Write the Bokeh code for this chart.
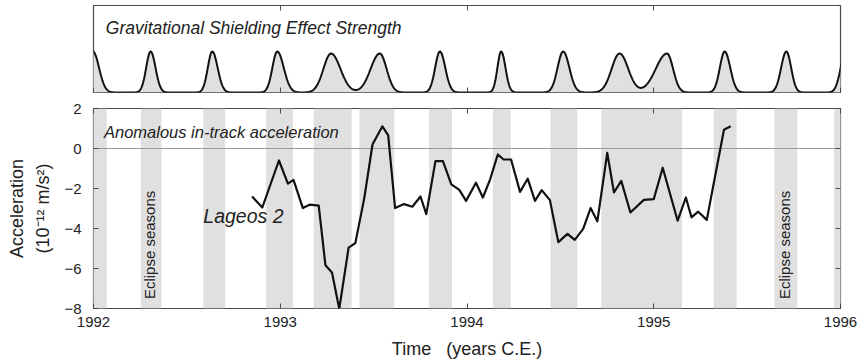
import numpy as np
from bokeh.plotting import figure
from bokeh.layouts import column
from bokeh.models import (Range1d, LinearAxis, FixedTicker, Label, Title, Span,
                          BoxAnnotation, CustomJSTickFormatter, ColumnDataSource)
from bokeh.embed import file_html
from bokeh.resources import INLINE

# ---------------- data ----------------
acc_time = [1992.849, 1992.904, 1992.993, 1993.041, 1993.071, 1993.121, 1993.157,
            1993.206, 1993.242, 1993.277, 1993.316, 1993.366, 1993.402, 1993.450,
            1993.494, 1993.547, 1993.578, 1993.615, 1993.663, 1993.707, 1993.751,
            1993.782, 1993.831, 1993.871, 1993.916, 1993.959, 1993.995, 1994.048,
            1994.085, 1994.124, 1994.165, 1994.196, 1994.236, 1994.284, 1994.325,
            1994.364, 1994.400, 1994.444, 1994.489, 1994.538, 1994.577, 1994.622,
            1994.662, 1994.698, 1994.751, 1994.787, 1994.826, 1994.875, 1994.947,
            1995.000, 1995.048, 1995.128, 1995.172, 1995.202, 1995.238, 1995.284,
            1995.376, 1995.412]
acc_value = [-2.40, -2.95, -0.60, -1.76, -1.57, -2.98, -2.81,
             -2.86, -5.84, -6.20, -8.02, -4.96, -4.73, -2.48,
             0.20, 1.11, 0.66, -2.98, -2.78, -2.91, -2.40,
             -3.28, -0.63, -0.63, -1.79, -2.07, -2.62, -1.71,
             -2.45, -1.54, -0.30, -0.55, -0.55, -2.17, -1.51,
             -2.62, -2.08, -2.58, -4.68, -4.27, -4.57, -4.02,
             -2.98, -3.64, -0.22, -2.20, -1.62, -3.20, -2.57,
             -2.53, -0.96, -3.61, -2.45, -3.44, -3.16, -3.57,
             0.94, 1.11]

season_start = [1991.95, 1992.253, 1992.588, 1992.924, 1993.179, 1993.424, 1993.797,
                1994.138, 1994.447, 1994.719, 1995.321, 1995.646, 1995.966]
season_end = [1992.071, 1992.364, 1992.705, 1993.068, 1993.382, 1993.611, 1993.920,
              1994.234, 1994.591, 1995.151, 1995.444, 1995.769, 1996.05]

peak_time = [1991.997, 1992.306, 1992.636, 1992.984, 1993.272, 1993.533, 1993.855,
             1994.183, 1994.515, 1994.817, 1995.071, 1995.380, 1995.710, 1996.029]
peak_left_width = [0.075, 0.055, 0.055, 0.060, 0.094, 0.113, 0.059,
                   0.046, 0.069, 0.098, 0.139, 0.060, 0.064, 0.064]
peak_right_width = [0.075, 0.060, 0.066, 0.080, 0.116, 0.084, 0.066,
                    0.053, 0.076, 0.107, 0.075, 0.068, 0.059, 0.064]
peak_height = [0.471, 0.471, 0.471, 0.471, 0.448, 0.448, 0.471,
               0.471, 0.471, 0.448, 0.448, 0.471, 0.471, 0.471]

year_ticks = [1992, 1993, 1994, 1995, 1996]
acc_ticks = [2, 0, -2, -4, -6, -8]

# ---------------- styles ----------------
FONT = "Liberation Sans"
TXT = "#222222"
BORDER = "#4a4a4a"
BAND = "#e0e0e0"
W = 860

# shielding strength curve built from the peaks
t = np.linspace(1991.9, 1996.1, 1600)
strength = np.zeros_like(t)
for c, lw, rw, h in zip(peak_time, peak_left_width, peak_right_width, peak_height):
    d = t - c
    sig = np.where(d < 0, lw, rw) / 2.3
    strength += h * np.exp(-0.5 * (d / sig) ** 2)
shield = ColumnDataSource(dict(t=t, s=strength))

BLANK = "return '';"


def tick_axis(ticks):
    return LinearAxis(ticker=FixedTicker(ticks=ticks), major_tick_in=5, major_tick_out=0,
                      minor_tick_in=0, minor_tick_out=0, axis_line_color=None,
                      major_tick_line_color=BORDER,
                      formatter=CustomJSTickFormatter(code=BLANK),
                      major_label_text_font_size="1px", major_label_standoff=0)


# ---------------- top panel ----------------
pt = figure(width=W, height=100, x_range=Range1d(1992, 1996), y_range=Range1d(0, 1),
            output_backend="svg", toolbar_location=None,
            x_axis_location=None, y_axis_location=None,
            min_border_left=90, min_border_right=20, min_border_top=5, min_border_bottom=8)
pt.grid.visible = False
pt.outline_line_color = BORDER
pt.outline_line_width = 1.2
pt.add_layout(tick_axis(year_ticks), "below")
pt.add_layout(tick_axis(year_ticks), "above")
pt.varea(x="t", y1=0, y2="s", source=shield, fill_color=BAND)
pt.line(x="t", y="s", source=shield, line_color="#111111", line_width=2)
pt.add_layout(Label(x=1992.066, y=0.744, text="Gravitational Shielding Effect Strength",
                    text_font=FONT, text_font_size="17.5px", text_font_style="italic",
                    text_color=TXT, text_baseline="middle"))

# ---------------- bottom panel ----------------
pb = figure(width=W, height=264, x_range=Range1d(1992, 1996), y_range=Range1d(-8, 2),
            output_backend="svg", toolbar_location=None,
            min_border_left=90, min_border_right=20, min_border_top=8, min_border_bottom=56)
pb.grid.visible = False
pb.outline_line_color = BORDER
pb.outline_line_width = 1.2

for s, e in zip(season_start, season_end):
    pb.add_layout(BoxAnnotation(left=s, right=e, fill_color=BAND, fill_alpha=1,
                                line_color=None, level="underlay"))
pb.add_layout(Span(location=0, dimension="width", line_color="#9a9a9a",
                   line_width=1.2, level="underlay"))

pb.line(acc_time, acc_value, line_color="#111111", line_width=2.2, line_join="round")

xa = pb.xaxis[0]
xa.ticker = FixedTicker(ticks=year_ticks)
xa.major_tick_in = 5
xa.major_tick_out = 0
xa.minor_tick_in = 0
xa.minor_tick_out = 0
xa.axis_line_color = None
xa.major_tick_line_color = BORDER
xa.major_label_text_font = FONT
xa.major_label_text_font_size = "15px"
xa.major_label_text_color = TXT
xa.major_label_standoff = 8
xa.axis_label = "Time\u00a0\u00a0\u00a0(years C.E.)"
xa.axis_label_text_font = FONT
xa.axis_label_text_font_size = "18px"
xa.axis_label_text_font_style = "normal"
xa.axis_label_text_color = TXT
xa.axis_label_standoff = 9

ya = pb.yaxis[0]
ya.ticker = FixedTicker(ticks=acc_ticks)
ya.formatter = CustomJSTickFormatter(code="return tick < 0 ? '\u2212' + Math.abs(tick) : String(tick);")
ya.major_tick_in = 5
ya.major_tick_out = 0
ya.minor_tick_in = 0
ya.minor_tick_out = 0
ya.axis_line_color = None
ya.major_tick_line_color = BORDER
ya.major_label_text_font = FONT
ya.major_label_text_font_size = "15px"
ya.major_label_text_color = TXT
ya.major_label_standoff = 12
ya.axis_label = "(10\u207b\u00b9\u00b2 m/s\u00b2)"
ya.axis_label_text_font = FONT
ya.axis_label_text_font_size = "18px"
ya.axis_label_text_font_style = "normal"
ya.axis_label_text_color = TXT
ya.axis_label_standoff = 8

pb.add_layout(Title(text="Acceleration", align="center", text_font=FONT,
                    text_font_size="18px", text_font_style="normal",
                    text_color=TXT, standoff=8), "left")
pb.add_layout(tick_axis(year_ticks), "above")
pb.add_layout(tick_axis(acc_ticks), "right")

pb.add_layout(Label(x=1992.056, y=0.81, text="Anomalous in-track acceleration",
                    text_font=FONT, text_font_size="16.5px", text_font_style="italic",
                    text_color=TXT, text_baseline="middle"))
pb.add_layout(Label(x=1992.588, y=-3.36, text="Lageos 2",
                    text_font=FONT, text_font_size="19.5px", text_font_style="italic",
                    text_color=TXT, text_baseline="middle"))
for xc in (1992.30, 1995.70):
    pb.add_layout(Label(x=xc, y=-4.82, text="Eclipse seasons", angle=np.pi / 2,
                        text_align="center", text_baseline="middle",
                        text_font=FONT, text_font_size="15px", text_color=TXT))

layout = column(pt, pb, spacing=0)
open("out.html", "w").write(file_html(layout, INLINE))
